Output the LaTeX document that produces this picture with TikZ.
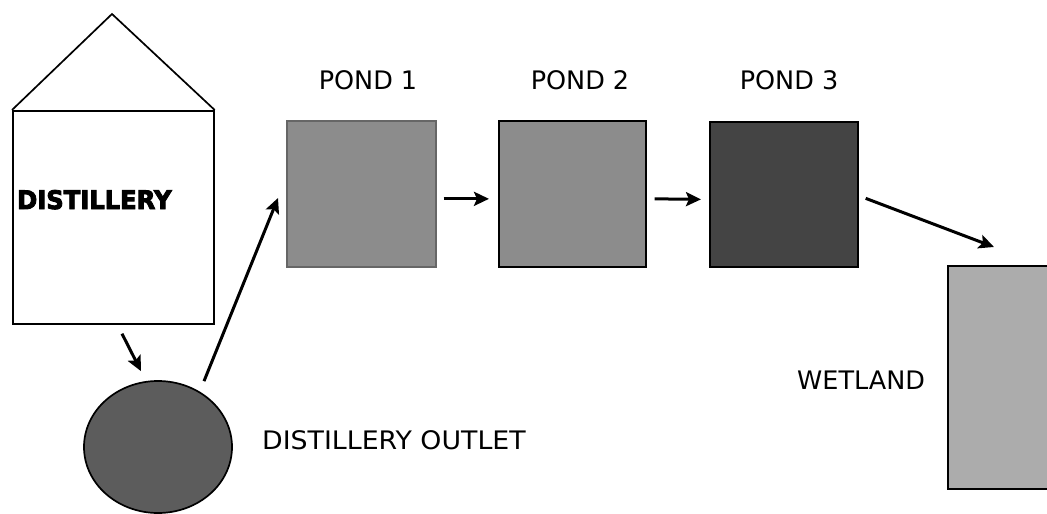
\documentclass[tikz,border=0pt]{standalone}
\usepackage{fontspec}
\usetikzlibrary{arrows.meta,shapes.geometric}
\newfontfamily\labelfont{DejaVu Sans}
\newfontfamily\widelabelfont[FakeStretch=1.05]{DejaVu Sans}
\newfontfamily\heavyfont[FakeStretch=0.95,FakeBold=3.5]{DejaVu Sans Bold}
\definecolor{pondgray}{HTML}{8C8C8C}
\definecolor{ponddark}{HTML}{444444}
\definecolor{wetgray}{HTML}{ACACAC}
\definecolor{outletgray}{HTML}{5C5C5C}
\begin{document}
\begin{tikzpicture}[x=1pt,y=-1pt,
  box/.style={draw=black,line width=1.7pt,inner sep=0pt,anchor=north west},
  flow/.style={line width=3pt,-{Stealth[length=15pt,width=14pt,inset=3pt]}},
  lbl/.style={font=\labelfont\fontsize{25.5}{26}\selectfont,inner sep=0pt,anchor=base}]
\useasboundingbox (0,0) rectangle (1047,514);
\clip (0,0) rectangle (1047,514);

% distillery building with its roof
\node[box,fill=white,minimum width=201pt,minimum height=213pt] (dist) at (12,110) {};
\draw[line width=1.7pt,line join=miter] (dist.north west) -- (112,14) coordinate (apex) -- (dist.north east);
\node[font=\heavyfont\fontsize{25.5}{26}\selectfont,inner sep=0pt,anchor=base west] (distlbl) at (17,209) {DISTILLERY};

% outlet
\node[ellipse,draw=black,line width=1.7pt,fill=outletgray,minimum width=148pt,minimum height=132pt,inner sep=0pt] (outlet) at (158,447) {};
\node[lbl,font=\widelabelfont\fontsize{25.5}{26}\selectfont,anchor=base west] (outletlbl) at (262,449) {DISTILLERY OUTLET};

% ponds
\node[box,draw=black!60,fill=pondgray,minimum width=149pt,minimum height=146pt] (pond1) at (286,120) {};
\node[box,fill=pondgray,minimum width=147pt,minimum height=146pt] (pond2) at (498,120) {};
\node[box,fill=ponddark,minimum width=148pt,minimum height=145pt] (pond3) at (709,121) {};
\node[lbl] (p1lbl) at (368,89) {POND 1};
\node[lbl] (p2lbl) at (580,89) {POND 2};
\node[lbl] (p3lbl) at (789,89) {POND 3};

% wetland
\node[box,fill=wetgray,minimum width=110pt,minimum height=223pt] (wet) at (947,265) {};
\node[lbl,anchor=base west] (wetlbl) at (797,389) {WETLAND};

% flow arrows
\draw[flow] ([shift={(110,9)}]dist.south west) -- ([shift={(-17,-9)}]outlet.north);
\draw[flow] ([shift={(46,1)}]outlet.north) -- ([shift={(-8,78)}]pond1.north west);
\draw[flow] ([shift={(7,5)}]pond1.east) -- ([shift={(-9,5)}]pond2.west);
\draw[flow] ([shift={(8,5)}]pond2.east) -- ([shift={(-8,5)}]pond3.west);
\draw[flow] ([shift={(7,4)}]pond3.east) -- ([shift={(47,-18)}]wet.north west);
\end{tikzpicture}
\end{document}
